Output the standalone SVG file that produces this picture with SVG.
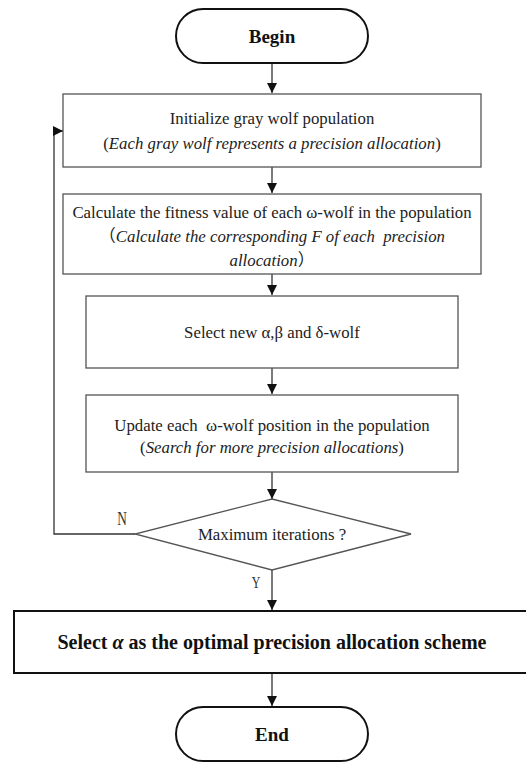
<svg xmlns="http://www.w3.org/2000/svg" width="526" height="763" viewBox="0 0 526 763">
<defs>
<style>
.t{font-family:"Liberation Serif","Noto Sans CJK SC",serif;font-size:16.8px;fill:#222;text-anchor:middle}
.b{font-weight:bold;fill:#111}
.i{font-style:italic}
.box{fill:#fff;stroke:#555;stroke-width:1.3}
.term{fill:#fff;stroke:#111;stroke-width:2}
.ln{fill:none;stroke:#333;stroke-width:1.3}
.lbl{font-family:"Liberation Serif",serif;font-size:19px;fill:#333;text-anchor:middle}
</style>
<marker id="ah" viewBox="0 0 10 10" refX="10" refY="5" markerWidth="10" markerHeight="10" markerUnits="userSpaceOnUse" orient="auto">
<path d="M0,0 L10,5 L0,10 Z" fill="#111"/>
</marker>
</defs>
<rect width="526" height="763" fill="#fff"/>
<g id="connectors">
<line class="ln" x1="272" y1="63" x2="272" y2="93" marker-end="url(#ah)"/>
<line class="ln" x1="272" y1="167" x2="272" y2="193" marker-end="url(#ah)"/>
<line class="ln" x1="272" y1="274" x2="272" y2="295" marker-end="url(#ah)"/>
<line class="ln" x1="272" y1="368" x2="272" y2="394" marker-end="url(#ah)"/>
<line class="ln" x1="272" y1="472" x2="272" y2="499" marker-end="url(#ah)"/>
<line class="ln" x1="272" y1="570" x2="272" y2="610" marker-end="url(#ah)"/>
<line class="ln" x1="272" y1="673" x2="272" y2="706" marker-end="url(#ah)"/>
<polyline class="ln" points="135,534 54,534 54,131 63,131" marker-end="url(#ah)"/>
<text class="lbl" transform="translate(122,525) scale(0.7,1)">N</text>
<text class="lbl" transform="translate(256,588) scale(0.7,1)" style="font-size:17px">Y</text>
</g>
<g id="begin">
<rect class="term" x="176" y="9" width="192" height="54" rx="27"/>
<text class="t b" x="272" y="43" style="font-size:19px">Begin</text>
</g>
<g id="init">
<rect class="box" x="63" y="94" width="418" height="73"/>
<text class="t" x="272" y="124">Initialize gray wolf population</text>
<text class="t" x="272" y="149">(<tspan class="i">Each gray wolf represents a precision allocation</tspan>)</text>
</g>
<g id="fitness">
<rect class="box" x="63" y="194" width="418" height="80"/>
<text class="t" x="272" y="218">Calculate the fitness value of each ω-wolf in the population</text>
<text class="t" x="272" y="242">（<tspan class="i">Calculate the corresponding F of each&#160; precision</tspan></text>
<text class="t" x="272" y="266"><tspan class="i">allocation</tspan>）</text>
</g>
<g id="select">
<rect class="box" x="86" y="296" width="372" height="72"/>
<text class="t" x="272" y="338">Select new α,β and δ-wolf</text>
</g>
<g id="update">
<rect class="box" x="86" y="395" width="372" height="77"/>
<text class="t" x="272" y="431">Update each&#160; ω-wolf position in the population</text>
<text class="t" x="272" y="453">(<tspan class="i">Search for more precision allocations</tspan>)</text>
</g>
<g id="decision">
<polygon class="box" points="272,499 411,534 272,570 135,534"/>
<text class="t" x="272" y="540">Maximum iterations ?</text>
</g>
<g id="result">
<rect x="14" y="611" width="520" height="62" fill="#fff" stroke="#111" stroke-width="2"/>
<text class="t b" x="272" y="649" style="font-size:20px">Select <tspan class="i">α</tspan> as the optimal precision allocation scheme</text>
</g>
<g id="end">
<rect class="term" x="176" y="707" width="192" height="54" rx="27"/>
<text class="t b" x="272" y="741" style="font-size:19px">End</text>
</g>
</svg>
